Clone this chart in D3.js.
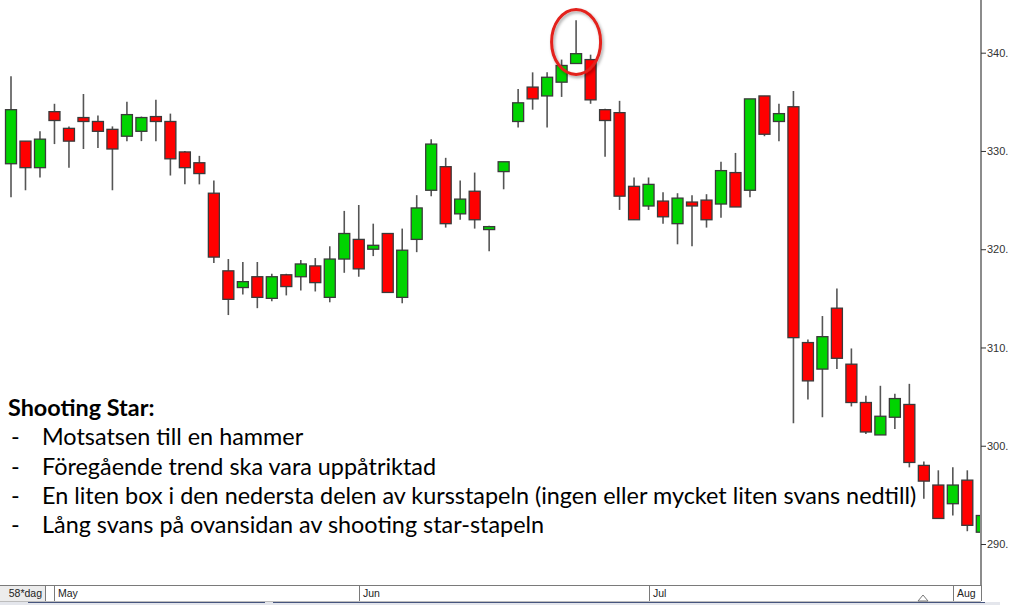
<!DOCTYPE html>
<html><head><meta charset="utf-8">
<script src="https://cdn.jsdelivr.net/npm/d3@7"></script>
<style>html,body{margin:0;padding:0;background:#fff;overflow:hidden}</style>
</head><body><svg id="c" width="1024" height="605"></svg>
<script>
// ---- data ----
const opens = [328.7,331.0,328.3,334.0,332.3,333.4,333.0,332.2,331.5,332.0,
  333.5,333.0,329.9,328.8,325.7,317.8,316.1,317.2,315.0,317.4,
  317.2,318.3,315.1,319.0,321.0,320.0,321.6,315.1,321.0,326.0,
  328.4,323.6,325.9,322.0,327.9,333.0,336.5,335.6,337.0,338.9,
  339.3,334.2,333.9,326.4,324.4,324.9,322.6,324.8,325.0,324.6,
  327.8,326.0,335.6,333.0,334.5,310.5,307.8,314.0,308.3,304.4,
  301.1,302.9,304.2,298.0,296.0,294.1,296.5,291.2];
const closes = [334.2,328.3,331.2,333.1,331.0,333.0,332.0,330.2,333.7,333.4,
  333.0,329.2,328.3,327.7,319.2,314.9,316.7,315.1,317.2,316.2,
  318.5,316.6,319.0,321.6,318.0,320.4,315.6,319.9,324.2,330.7,
  322.6,325.1,323.0,322.3,328.9,334.9,335.3,337.5,338.7,339.9,
  335.2,333.1,325.4,323.0,326.6,323.3,325.2,324.4,323.0,328.0,
  324.3,335.3,331.7,333.8,311.0,306.6,311.1,308.9,304.4,301.4,
  303.0,304.8,298.3,296.4,292.6,296.0,291.9,292.9];
const highs = [337.6,331.0,332.0,334.8,332.5,335.8,333.6,332.5,335.0,333.5,
  335.2,333.8,330.0,329.5,327.0,319.0,318.7,318.7,317.5,317.5,
  318.9,319.1,320.3,323.9,324.5,322.6,321.6,322.1,325.5,331.2,
  329.3,327.0,327.8,322.4,328.9,336.3,338.0,338.0,339.3,343.3,
  339.8,334.3,335.1,327.3,327.3,325.8,325.7,325.5,325.6,328.9,
  329.8,335.3,335.6,334.8,336.1,310.8,313.2,316.0,309.9,305.1,
  306.1,305.3,306.3,298.4,297.5,297.8,297.5,293.2];
const lows = [325.3,326.0,327.3,330.7,328.3,330.2,330.3,326.0,331.0,331.0,
  331.0,327.5,326.6,326.6,318.6,313.3,315.4,314.0,314.7,315.3,
  315.8,315.7,314.6,317.6,317.2,319.3,315.6,314.5,319.7,325.4,
  322.2,323.0,322.1,319.8,326.1,332.4,334.2,332.4,335.5,338.9,
  334.8,329.4,324.0,323.0,324.0,322.6,320.5,320.3,322.2,323.2,
  324.3,325.3,331.5,331.0,302.3,304.7,302.9,307.8,304.0,301.2,
  301.1,301.7,297.8,294.6,292.6,292.9,291.3,291.0];
const monthLabels = ["May","Jun","Jul","Aug"];
const monthStartIdx = [3,24,44,65];
const priceTicks = [290,300,310,320,330,340];
const periodLabel = "58*dag";
const calloutIndex = 39;
const titleText = "Shooting Star:";
const bullets = [
  "Motsatsen till en hammer",
  "Föregående trend ska vara uppåtriktad",
  "En liten box i den nedersta delen av kursstapeln (ingen eller mycket liten svans nedtill)",
  "Lång svans på ovansidan av shooting star-stapeln"
];

// ---- layout ----
const svg = d3.select("#c");
const plotRight = 981, plotBottom = 585;
const n = opens.length;
const x = d3.scaleLinear().domain([0, n - 1]).range([11, 981.8]);
const y = d3.scaleLinear().domain([290, 340]).range([544, 52.7]);
const bodyW = 11;

const defs = svg.append("defs");
defs.append("clipPath").attr("id", "plotclip")
  .append("rect").attr("x", 0).attr("y", 0).attr("width", plotRight).attr("height", plotBottom);
const f = defs.append("filter").attr("id", "shadow").attr("x", "-30%").attr("y", "-30%").attr("width", "160%").attr("height", "160%");
f.append("feDropShadow").attr("dx", 1.5).attr("dy", 2).attr("stdDeviation", 1.5)
  .attr("flood-color", "#000").attr("flood-opacity", 0.35);

const data = d3.range(n).map(i => ({i, o: opens[i], h: highs[i], l: lows[i], c: closes[i]}));

const plot = svg.append("g").attr("clip-path", "url(#plotclip)");
const cg = plot.selectAll("g.candle").data(data).join("g").attr("class", "candle");
cg.append("line")
  .attr("x1", d => x(d.i)).attr("x2", d => x(d.i))
  .attr("y1", d => y(d.h)).attr("y2", d => y(d.l))
  .attr("stroke", "#555").attr("stroke-width", 1.6);
cg.append("rect")
  .attr("x", d => x(d.i) - bodyW / 2)
  .attr("y", d => y(Math.max(d.o, d.c)))
  .attr("width", bodyW)
  .attr("height", d => Math.max(1, Math.abs(y(d.o) - y(d.c))))
  .attr("fill", d => d.c >= d.o ? "#00d400" : "#ff0000")
  .attr("stroke", "#3a3a3a").attr("stroke-width", 1.3);

// right axis
svg.append("line").attr("x1", plotRight).attr("x2", plotRight).attr("y1", 0).attr("y2", plotBottom)
  .attr("stroke", "#8c8c8c").attr("stroke-width", 2);
const ax = svg.append("g").attr("transform", `translate(${plotRight},0)`)
  .call(d3.axisRight(y).tickValues(priceTicks).tickSize(5).tickPadding(1).tickFormat(d => d + "."));
ax.select(".domain").remove();
ax.selectAll(".tick line").attr("stroke", "#333").attr("stroke-width", 1);
ax.selectAll(".tick text").attr("font-family", "Liberation Sans, Arial, sans-serif")
  .attr("font-size", 11).attr("fill", "#333");

// bottom time bar
const bar = svg.append("g");
bar.append("rect").attr("x", 0).attr("y", plotBottom).attr("width", 45).attr("height", 16).attr("fill", "#ececec");
bar.append("line").attr("x1", 0).attr("x2", plotRight).attr("y1", plotBottom + 0.5).attr("y2", plotBottom + 0.5)
  .attr("stroke", "#7a7a7a").attr("stroke-width", 1);
bar.append("line").attr("x1", 0).attr("x2", plotRight).attr("y1", 601.5).attr("y2", 601.5)
  .attr("stroke", "#bdbdbd").attr("stroke-width", 1);
const seps = [45, x(monthStartIdx[0]) - 0.5].concat(monthStartIdx.slice(1).map(i => x(i)), [plotRight]);
bar.selectAll("line.sep").data(seps).join("line").attr("class", "sep")
  .attr("x1", d => Math.round(d) + 0.5).attr("x2", d => Math.round(d) + 0.5)
  .attr("y1", plotBottom).attr("y2", 601)
  .attr("stroke", "#7a7a7a").attr("stroke-width", 1);
bar.append("text").attr("x", 42).attr("y", 597).attr("text-anchor", "end")
  .attr("font-family", "Liberation Sans, Arial, sans-serif").attr("font-size", 10.5).attr("fill", "#222")
  .text(periodLabel);
bar.selectAll("text.month").data(monthLabels).join("text").attr("class", "month")
  .attr("x", (d, k) => Math.round(x(monthStartIdx[k])) + 4)
  .attr("y", 597)
  .attr("font-family", "Liberation Sans, Arial, sans-serif").attr("font-size", 10.5).attr("fill", "#222")
  .text(d => d);
// small triangle marker
bar.append("path").attr("d", "M918,601 L923,595 L928,601 Z").attr("fill", "none").attr("stroke", "#777").attr("stroke-width", 1);
// scrollbar strip
bar.append("rect").attr("x", 0).attr("y", 602).attr("width", 1000).attr("height", 3).attr("fill", "#e4e6ec");
bar.append("line").attr("x1", 28).attr("x2", 265).attr("y1", 602.5).attr("y2", 602.5).attr("stroke", "#46557e").attr("stroke-width", 1);
bar.append("line").attr("x1", 273).attr("x2", 985).attr("y1", 602.5).attr("y2", 602.5).attr("stroke", "#46557e").attr("stroke-width", 1);

// callout ellipse around shooting star
const cs = data[calloutIndex];
svg.append("ellipse")
  .attr("cx", x(cs.i)).attr("cy", y((cs.h + cs.l) / 2))
  .attr("rx", 24.5).attr("ry", 32.5)
  .attr("fill", "none").attr("stroke", "#e3201b").attr("stroke-width", 3)
  .attr("filter", "url(#shadow)");

// text block
const tg = svg.append("g").attr("font-family", "Lato, 'Open Sans', sans-serif").attr("fill", "#000");
const probe = tg.append("text").attr("font-size", 20).text(bullets[2]);
const w20 = probe.node().getComputedTextLength();
probe.remove();
const fs = 20 * 875 / w20;
tg.append("text").attr("x", 8).attr("y", 416).attr("font-size", fs).attr("font-weight", "bold").text(titleText);
const lineY = [445, 474.5, 504, 533];
bullets.forEach((t, k) => {
  tg.append("text").attr("x", 11).attr("y", lineY[k]).attr("font-size", fs).text("-");
  tg.append("text").attr("x", 42).attr("y", lineY[k]).attr("font-size", fs).text(t);
});
</script>
</body></html>
